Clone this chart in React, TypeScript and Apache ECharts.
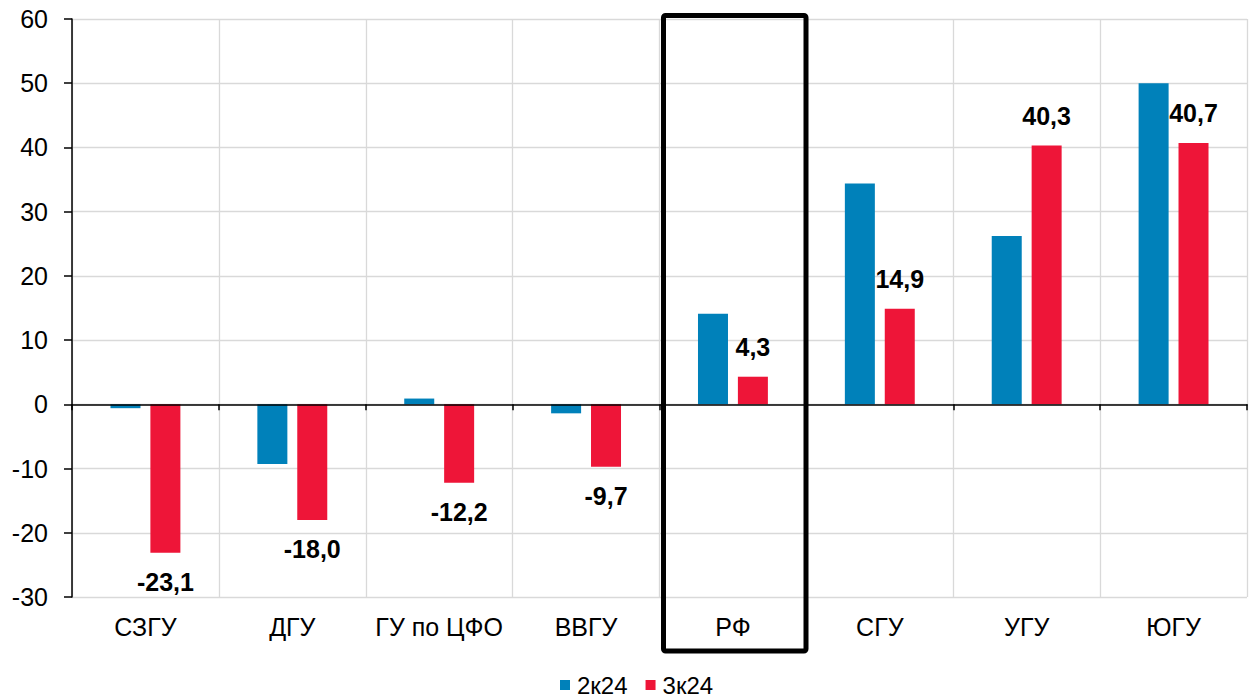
import React, { useEffect, useRef } from "react";
import * as echarts from "echarts";

const categories = ["СЗГУ", "ДГУ", "ГУ по ЦФО", "ВВГУ", "РФ", "СГУ", "УГУ", "ЮГУ"];
const seriesNames = ["2к24", "3к24"];
const q2Values = [-0.6, -9.3, 0.9, -1.4, 14.1, 34.4, 26.2, 50.0];
const q3Values = [-23.1, -18.0, -12.2, -9.7, 4.3, 14.9, 40.3, 40.7];
const yMin = -30;
const yMax = 60;
const yStep = 10;

const FONT = "'Liberation Sans', Arial, sans-serif";
const BLUE = "#0081BA";
const RED = "#EE1538";

export default function App() {
  const ref = useRef<HTMLDivElement>(null);

  useEffect(() => {
    if (!ref.current) return;
    const chart = echarts.init(ref.current, null, { renderer: "svg" });
    const fmt = (v: number) => v.toFixed(1).replace(".", ",");
    chart.setOption({
      animation: false,
      textStyle: { fontFamily: FONT },
      grid: { left: 72, right: 2, top: 19, bottom: 100, containLabel: false },
      legend: {
        data: seriesNames,
        left: 555,
        top: 668,
        icon: "rect",
        itemWidth: 10,
        itemHeight: 10,
        itemGap: 18,
        textStyle: { fontSize: 24, color: "#000", fontFamily: FONT, padding: [0, 0, 0, 2] },
      },
      xAxis: [
        {
          type: "category",
          data: categories,
          position: "bottom",
          axisLine: { onZero: true, lineStyle: { color: "#000", width: 1.5 } },
          axisTick: { show: true, length: 6, lineStyle: { color: "#000", width: 1.5 } },
          axisLabel: { show: false },
          splitLine: { show: false },
          z: 5,
        },
        {
          type: "category",
          data: categories,
          position: "bottom",
          axisLine: { show: false, onZero: false },
          axisTick: { show: false },
          axisLabel: { show: true, fontSize: 25, color: "#000", margin: 17, fontFamily: FONT, interval: 0 },
          splitLine: { show: true, lineStyle: { color: "#D9D9D9", width: 1.3 } },
        },
      ],
      yAxis: {
        type: "value",
        min: yMin,
        max: yMax,
        interval: yStep,
        axisLine: { show: true, lineStyle: { color: "#000", width: 1.5 } },
        axisTick: { show: true, length: 8, lineStyle: { color: "#000", width: 1.5 } },
        axisLabel: { fontSize: 25, color: "#000", margin: 24, fontFamily: FONT },
        splitLine: { show: true, lineStyle: { color: "#D9D9D9", width: 1.3 } },
      },
      series: [
        {
          name: seriesNames[0],
          type: "bar",
          xAxisIndex: 0,
          data: q2Values,
          barWidth: 30,
          barGap: "33%",
          itemStyle: { color: BLUE },
        },
        {
          name: seriesNames[1],
          type: "bar",
          xAxisIndex: 0,
          barWidth: 30,
          barGap: "33%",
          itemStyle: { color: RED },
          data: q3Values.map((v) => ({
            value: v,
            label: { position: v < 0 ? "bottom" : "top" },
          })),
          label: {
            show: true,
            distance: 17,
            fontSize: 25,
            fontWeight: "bold",
            color: "#000",
            fontFamily: FONT,
            formatter: (p: any) => fmt(p.value),
          },
          z: 3,
        },
      ],
      graphic: [
        {
          type: "rect",
          z: 100,
          shape: { x: 663.5, y: 15.5, width: 142.5, height: 635.5, r: 2 },
          style: { fill: "none", stroke: "#000", lineWidth: 5, lineJoin: "round" },
        },
      ],
    });
    return () => chart.dispose();
  }, []);

  return (
    <div
      ref={ref}
      style={{ position: "absolute", left: 0, top: 0, width: 1249, height: 697, background: "#fff" }}
    />
  );
}
